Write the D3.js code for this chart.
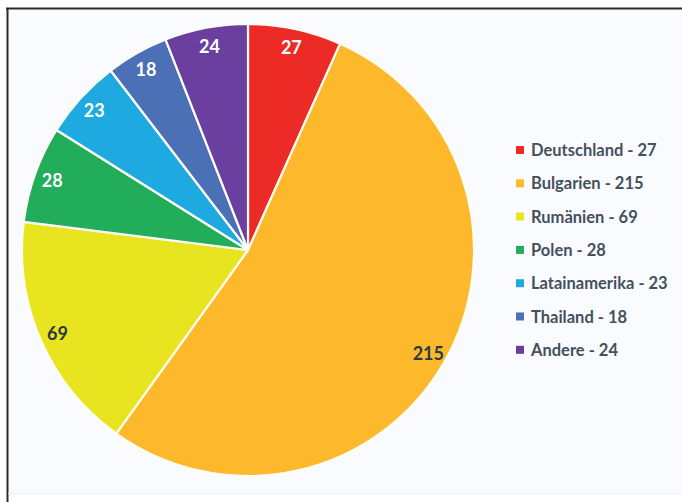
<!DOCTYPE html>
<html><head><meta charset="utf-8">
<script src="https://cdn.jsdelivr.net/npm/d3@7"></script>
<style>html,body{margin:0;padding:0;background:#fff;}svg{display:block;}</style>
</head><body>
<svg id="c" width="682" height="502"></svg>
<script>
const categories = ["Deutschland","Bulgarien","Rumänien","Polen","Latainamerika","Thailand","Andere"];
const values = [27,215,69,28,23,18,24];
const colors = ["#EC2A26","#FDB92B","#E8E420","#22AD5A","#1EA9E0","#4B70B6","#6A3F9F"];
const labelColors = ["#fff","#2b3a42","#2b3a42","#fff","#fff","#fff","#fff"];

const svg = d3.select("#c");
svg.append("rect").attr("x",0).attr("y",0).attr("width",682).attr("height",502).attr("fill","#fff");
svg.append("rect").attr("x",7).attr("y",8).attr("width",680).attr("height",486).attr("fill","#FAFBFE");
svg.append("line").attr("x1",6).attr("x2",682).attr("y1",8.5).attr("y2",8.5).attr("stroke","#2a2a2a").attr("stroke-width",2);
svg.append("line").attr("x1",7.5).attr("x2",7.5).attr("y1",8).attr("y2",502).attr("stroke","#2a2a2a").attr("stroke-width",2);
svg.append("line").attr("x1",8).attr("x2",682).attr("y1",493.5).attr("y2",493.5).attr("stroke","#eeeeee").attr("stroke-width",1);

const cx = 248, cy = 250, r = 226;
const data = categories.map((c,i)=>({name:c,value:values[i],color:colors[i],lc:labelColors[i]}));
const pie = d3.pie().value(d=>d.value).sort(null);
const arcs = pie(data);
const arc = d3.arc().innerRadius(0).outerRadius(r);
const labelArc = d3.arc().innerRadius(r*0.92).outerRadius(r*0.92);

const g = svg.append("g").attr("transform",`translate(${cx},${cy})`);
g.selectAll("path").data(arcs).join("path")
  .attr("d",arc).attr("fill",d=>d.data.color)
  .attr("stroke","#fdfdf5").attr("stroke-width",2.2).attr("stroke-linejoin","round");

g.selectAll("text").data(arcs).join("text")
  .attr("transform",d=>`translate(${labelArc.centroid(d)})`)
  .attr("text-anchor","middle").attr("dominant-baseline","central")
  .attr("font-family","Lato, 'Open Sans', sans-serif").attr("font-weight","bold")
  .attr("font-size",18).attr("fill",d=>d.data.lc)
  .text(d=>d.data.value);

const leg = svg.append("g").attr("transform","translate(516,150)");
const rows = leg.selectAll("g").data(data).join("g")
  .attr("transform",(d,i)=>`translate(0,${i*33.3})`);
rows.append("rect").attr("x",0).attr("y",-4).attr("width",8).attr("height",8).attr("fill",d=>d.color);
rows.append("text").attr("x",15).attr("y",0).attr("dominant-baseline","central")
  .attr("font-family","Lato, 'Open Sans', sans-serif").attr("font-weight","bold")
  .attr("font-size",16.5).attr("fill","#44505c")
  .text(d=>`${d.name} - ${d.value}`);
</script>
</body></html>
